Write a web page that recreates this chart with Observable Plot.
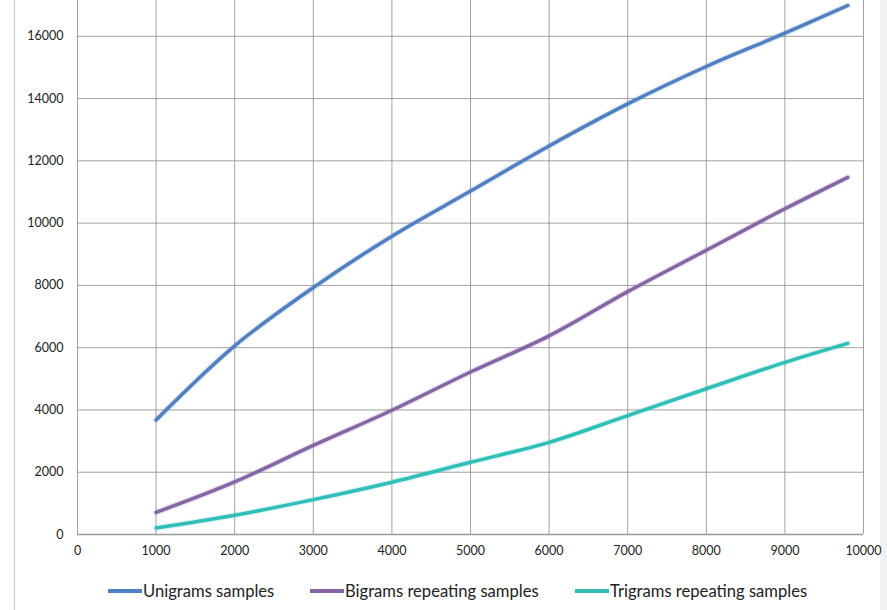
<!DOCTYPE html>
<html>
<head>
<meta charset="utf-8">
<script src="https://cdn.jsdelivr.net/npm/d3@7"></script>
<script src="https://cdn.jsdelivr.net/npm/@observablehq/plot@0.6"></script>
<style>
  html, body { margin: 0; padding: 0; background: #fff; }
  #wrap { position: relative; width: 887px; height: 610px; overflow: hidden; font-family: Lato, "Open Sans", sans-serif; }
  #chart { position: relative; z-index: 2; }
  #leftborder { position: absolute; left: 14px; top: 0; width: 1px; height: 610px; background: #c8c8c8; }
  #rightpad { position: absolute; left: 880px; top: 0; width: 7px; height: 610px; background: #f1f1f1; z-index: 1; }
  #legend { position: absolute; top: 580px; left: 0; width: 887px; height: 24px; font-size: 16.6px; color: #222; z-index: 3; }
  .item { position: absolute; top: 0; display: flex; align-items: center; height: 22px; }
  .sw { width: 34px; height: 4px; margin-right: 1px; }
</style>
</head>
<body>
<div id="wrap">
  <div id="leftborder"></div>
  <div id="rightpad"></div>
  <div id="chart"></div>
  <div id="legend"></div>
</div>
<script>
const xValues = [1000, 2000, 3000, 4000, 5000, 6000, 7000, 8000, 9000, 9800];
const unigrams = [3680, 6060, 7930, 9580, 11030, 12480, 13830, 15030, 16100, 16990];
const bigrams  = [710, 1690, 2860, 3990, 5220, 6380, 7800, 9130, 10460, 11470];
const trigrams = [210, 620, 1120, 1680, 2320, 2960, 3820, 4680, 5530, 6140];
const seriesNames = ["Unigrams samples", "Bigrams repeating samples", "Trigrams repeating samples"];
const seriesColors = ["#5180c0", "#8466a4", "#30bfb7"];
const xTicks = [0, 1000, 2000, 3000, 4000, 5000, 6000, 7000, 8000, 9000, 10000];
const yTicks = [0, 2000, 4000, 6000, 8000, 10000, 12000, 14000, 16000];

const seriesValues = [unigrams, bigrams, trigrams];
const rows = [];
seriesNames.forEach((name, i) => {
  xValues.forEach((x, j) => rows.push({series: name, x, y: seriesValues[i][j]}));
});

const chart = Plot.plot({
  width: 887,
  height: 572,
  marginLeft: 77,
  marginRight: 24,
  marginTop: 0,
  marginBottom: 38,
  style: {fontFamily: "Lato, 'Open Sans', sans-serif", fontSize: "12.5px", color: "#222", background: "transparent", overflow: "visible"},
  x: {domain: [0, 10000], ticks: xTicks, tickFormat: d => String(d), tickSize: 0, tickPadding: 12, label: null},
  y: {domain: [0, 17150], ticks: yTicks, tickFormat: d => String(d), tickSize: 0, tickPadding: 14, label: null},
  color: {domain: seriesNames, range: seriesColors},
  marks: [
    Plot.gridX(xTicks, {stroke: "#8a8a8a", strokeOpacity: 0.8, strokeWidth: 1}),
    Plot.gridY(yTicks, {stroke: "#8a8a8a", strokeOpacity: 0.8, strokeWidth: 1}),
    Plot.ruleY([0], {stroke: "#9a9a9a", strokeWidth: 1.5}),
    Plot.axisX({ticks: xTicks, tickFormat: d => String(d), tickSize: 0, tickPadding: 12, label: null}),
    Plot.axisY({ticks: yTicks, tickFormat: d => String(d), tickSize: 0, tickPadding: 14, label: null}),
    Plot.line(rows, {x: "x", y: "y", z: "series", stroke: "series", strokeWidth: 6, strokeOpacity: 0.18, curve: "catmull-rom"}),
    Plot.line(rows, {x: "x", y: "y", z: "series", stroke: "series", strokeWidth: 3.5, curve: "catmull-rom"})
  ]
});
document.getElementById("chart").appendChild(chart);

const legendPos = [108, 310, 575];
const legend = document.getElementById("legend");
seriesNames.forEach((name, i) => {
  const item = document.createElement("div");
  item.className = "item";
  item.style.left = legendPos[i] + "px";
  const sw = document.createElement("div");
  sw.className = "sw";
  sw.style.background = seriesColors[i];
  const t = document.createElement("span");
  t.textContent = name;
  item.appendChild(sw);
  item.appendChild(t);
  legend.appendChild(item);
});
</script>
</body>
</html>
